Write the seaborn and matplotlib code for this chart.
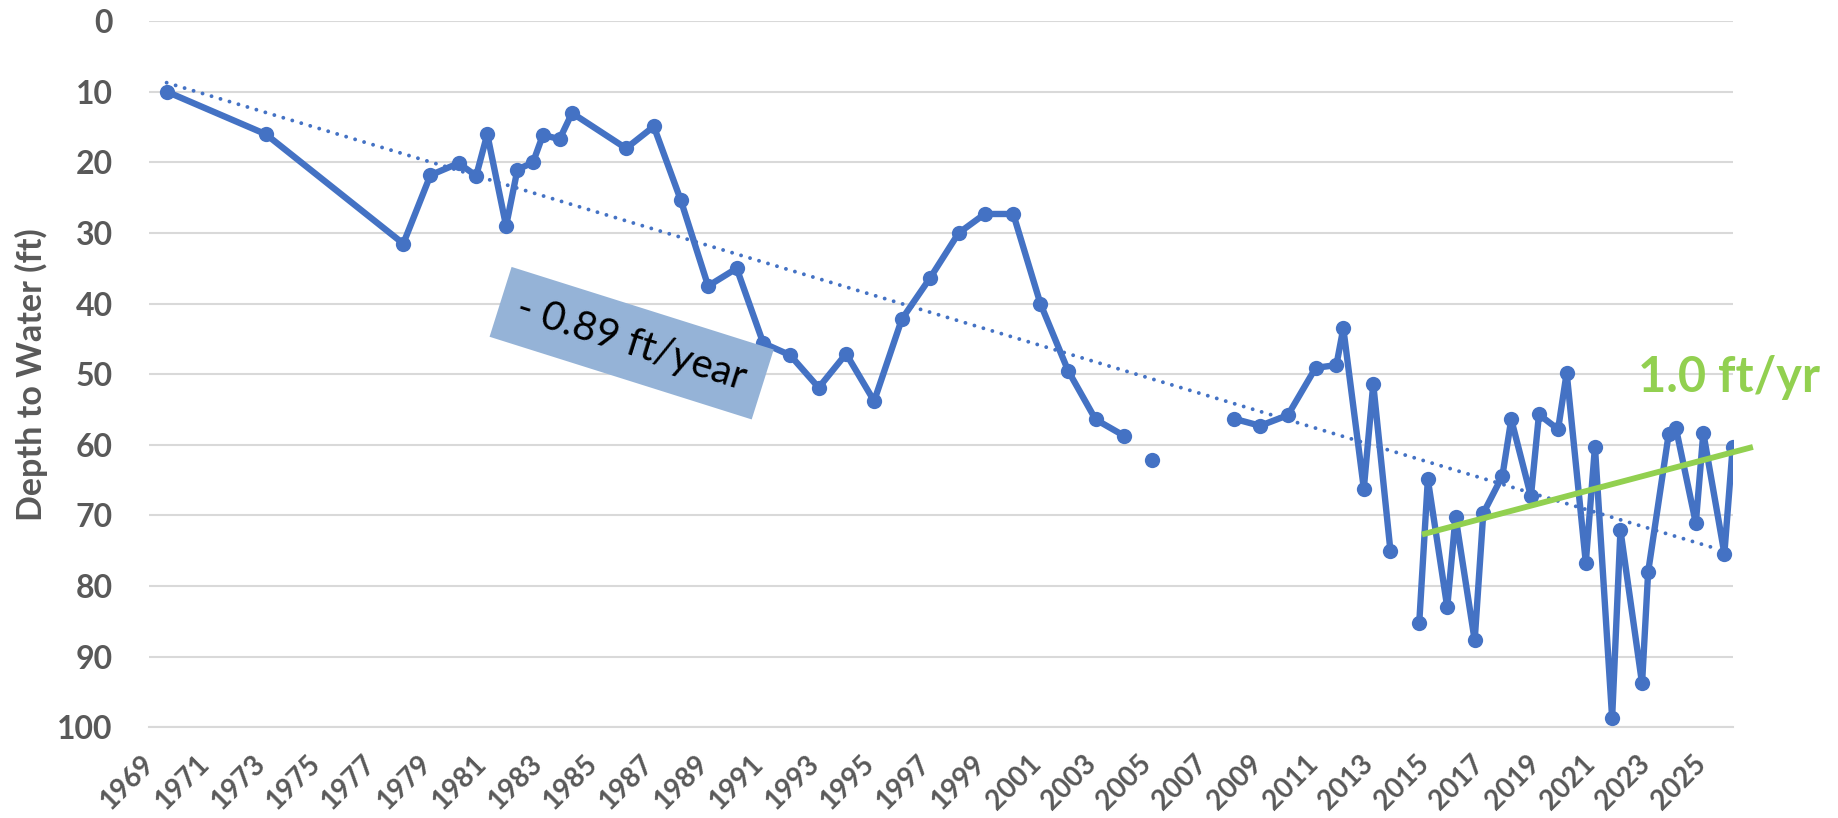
import numpy as np
import pandas as pd
import seaborn as sns
import matplotlib.pyplot as plt
import matplotlib.transforms as mtransforms
from matplotlib.ticker import MultipleLocator

# measured depth to water (decimal year, ft below surface)
years = [1969.66, 1973.22, 1978.18, 1979.16, 1980.18, 1980.81, 1981.21, 1981.89,
         1982.30, 1982.86, 1983.22, 1983.82, 1984.27, 1986.22, 1987.22, 1988.19,
         1989.18, 1990.21, 1991.17, 1992.14, 1993.17, 1994.16, 1995.17, 1996.17,
         1997.20, 1998.22, 1999.16, 2000.19, 2001.17, 2002.17, 2003.16, 2004.18,
         2005.19,
         2008.15, 2009.10, 2010.10, 2011.10, 2011.85, 2012.10, 2012.84, 2013.18, 2013.80,
         2014.84, 2015.15, 2015.85, 2016.15, 2016.84, 2017.15, 2017.84, 2018.16,
         2018.87, 2019.16, 2019.85, 2020.16, 2020.85, 2021.18, 2021.80, 2022.10,
         2022.88, 2023.10, 2023.84, 2024.10, 2024.82, 2025.09, 2025.85, 2026.15]
depths = [10.0, 16.0, 31.5, 21.8, 20.1, 21.9, 16.0, 29.0,
          21.0, 20.0, 16.1, 16.7, 13.0, 18.0, 14.9, 25.3,
          37.5, 35.0, 45.6, 47.3, 51.9, 47.1, 53.8, 42.2,
          36.3, 30.0, 27.3, 27.3, 40.0, 49.5, 56.4, 58.7,
          62.1,
          56.3, 57.3, 55.8, 49.1, 48.7, 43.5, 66.2, 51.4, 75.0,
          85.2, 64.9, 83.0, 70.2, 87.7, 69.7, 64.4, 56.4,
          67.3, 55.7, 57.8, 49.8, 76.7, 60.3, 98.7, 72.1,
          93.8, 78.0, 58.5, 57.6, 71.1, 58.3, 75.4, 60.3]
# runs of connected measurements (blank cells break the line)
segment = [0] * 32 + [1] + [2] * 9 + [3] * 24

# trend lines
trend_years = [1969.64, 2025.56]
trend_depths = [8.7, 74.7]
recent_years = [2014.94, 2026.88]
recent_depths = [72.7, 60.3]

blue = '#4472C4'
green = '#92D050'
grey = '#595959'

df = pd.DataFrame({'year': years, 'depth': depths, 'segment': segment})

sns.set_style('white')
plt.rcParams['font.family'] = ['Lato', 'DejaVu Sans']

fig = plt.figure(figsize=(18.38, 8.18), dpi=100)
ax = fig.add_axes([0.081, 0.111, 0.862, 0.863])

sns.lineplot(data=df, x='year', y='depth', units='segment', estimator=None,
             color=blue, linewidth=4.6, marker='o', markersize=11,
             markeredgewidth=0, ax=ax, zorder=3)

# long-term linear trend (dotted)
ax.plot(trend_years, trend_depths, color=blue, linewidth=2.8,
        linestyle=(0, (0.01, 2.4)), dash_capstyle='round', zorder=2)
# recent trend (green)
ax.plot(recent_years, recent_depths, color=green, linewidth=4.2,
        solid_capstyle='butt', clip_on=False, zorder=4)

ax.set_xlim(1969, 2026.17)
ax.set_ylim(100, 0)
ax.yaxis.set_major_locator(MultipleLocator(10))
ax.xaxis.set_major_locator(MultipleLocator(2, offset=1))
ax.xaxis.set_minor_locator(MultipleLocator(1))
ax.grid(axis='y', color='#D9D9D9', linewidth=1.5)
ax.grid(axis='x', visible=False)
for side in ['top', 'right', 'left']:
    ax.spines[side].set_visible(False)
ax.spines['bottom'].set_color('#D9D9D9')
ax.spines['bottom'].set_linewidth(1.5)

ax.tick_params(axis='y', length=0, pad=26, labelsize=23, labelcolor=grey)
ax.tick_params(axis='x', which='major', direction='in', length=10, width=1.5,
               color='#D9D9D9', pad=17, labelsize=20, labelcolor=grey)
ax.tick_params(axis='x', which='minor', direction='in', length=6, width=1.5,
               color='#D9D9D9')
for lab in ax.get_yticklabels():
    lab.set_fontweight('bold')
shift = mtransforms.ScaledTranslation(-6 / 72, 0, fig.dpi_scale_trans)
for lab in ax.get_xticklabels():
    lab.set_fontweight('bold')
    lab.set_rotation(45)
    lab.set_ha('right')
    lab.set_rotation_mode('anchor')
    lab.set_transform(lab.get_transform() + shift)

ax.set_xlabel('')
ax.set_ylabel('Depth to Water (ft)', fontsize=24.5, fontweight='bold', color=grey,
              labelpad=7)

ax.text(1986.42, 45.6, '- 0.89 ft/year', fontsize=29, color='black',
        rotation=-17.5, rotation_mode='anchor', ha='center', va='center',
        bbox=dict(boxstyle='square,pad=0.45', fc='#95B3D7', ec='none'), zorder=5)
ax.text(2026.02, 52.5, '1.0 ft/yr', fontsize=35, fontweight='bold', color=green,
        ha='center', va='baseline', clip_on=False, zorder=5)

fig.savefig('out.png', dpi=100)
